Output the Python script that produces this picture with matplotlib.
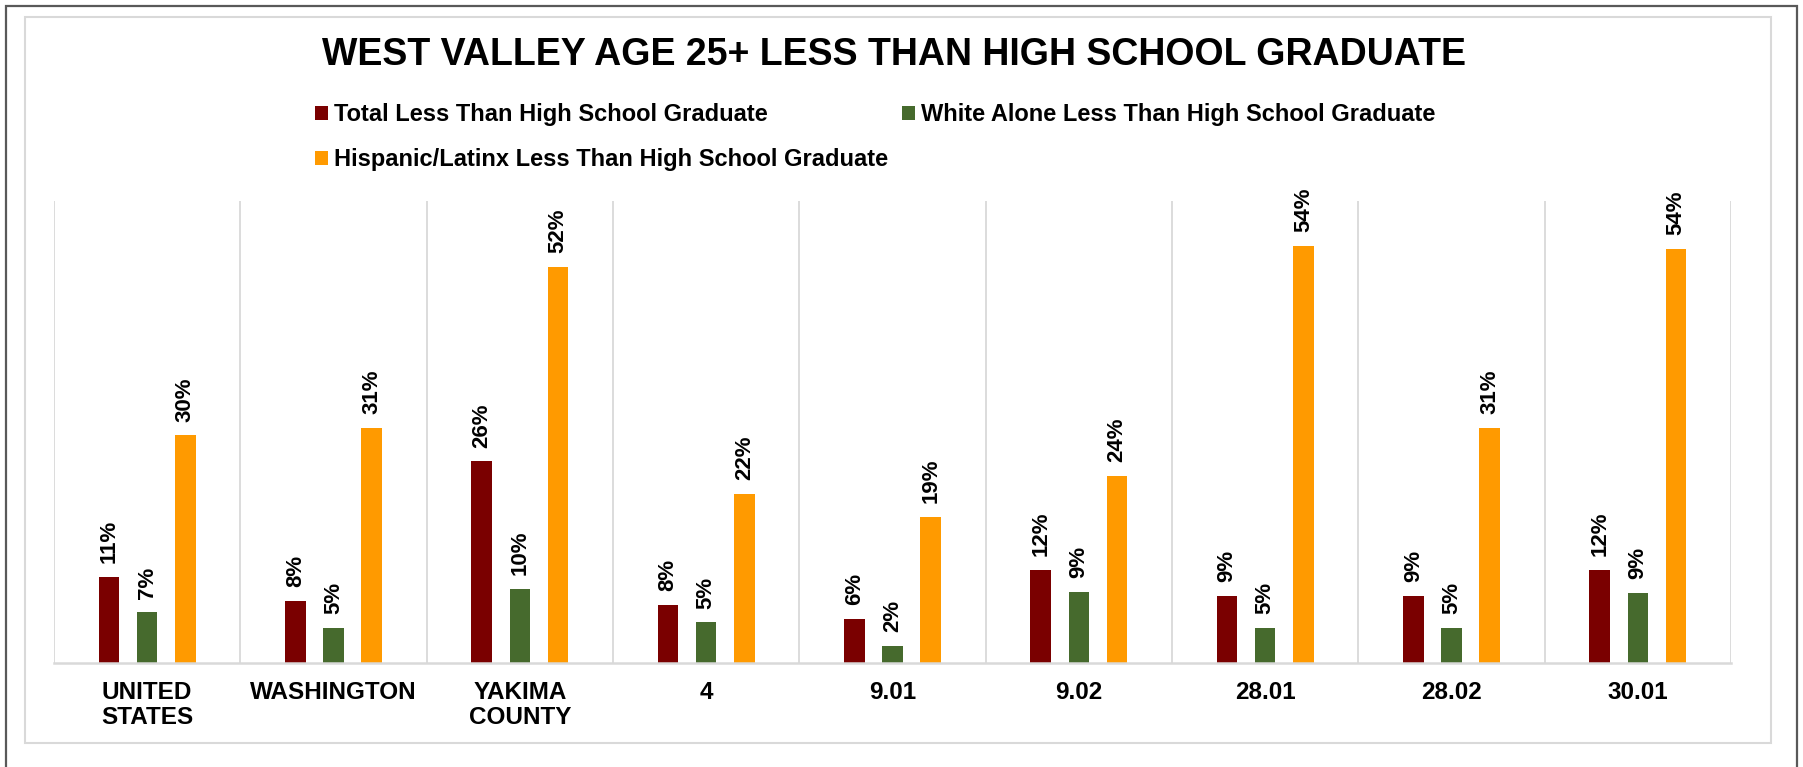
import numpy as np
import matplotlib.pyplot as plt
from matplotlib.patches import Rectangle

plt.rcParams['font.family'] = ['Liberation Sans', 'DejaVu Sans']
plt.rcParams['font.weight'] = 'bold'

categories = ["UNITED\nSTATES", "WASHINGTON", "YAKIMA\nCOUNTY", "4", "9.01",
              "9.02", "28.01", "28.02", "30.01"]
total_less_hs = [0.112, 0.081, 0.263, 0.076, 0.058, 0.121, 0.087, 0.087, 0.122]
white_less_hs = [0.066, 0.046, 0.097, 0.053, 0.022, 0.093, 0.046, 0.046, 0.092]
hispanic_less_hs = [0.297, 0.307, 0.517, 0.221, 0.191, 0.244, 0.544, 0.307, 0.541]

series_names = ["Total Less Than High School Graduate",
                "White Alone Less Than High School Graduate",
                "Hispanic/Latinx Less Than High School Graduate"]
colors = ["#7a0000", "#466a2d", "#ff9a00"]

W, H = 1803, 767
fig = plt.figure(figsize=(W / 100, H / 100), dpi=100)


def px(x0, y0, x1, y1):
    # pixel box (top-left origin) -> figure fraction [left, bottom, width, height]
    return [x0 / W, 1 - y1 / H, (x1 - x0) / W, (y1 - y0) / H]


# outer dark border and inner light frame
fig.patches.append(Rectangle((6 / W, -0.05), (1797 - 6) / W, 1 - 6 / H + 0.05,
                             transform=fig.transFigure, fill=False,
                             edgecolor="#595959", linewidth=1.6))
fig.patches.append(Rectangle((25 / W, 1 - 743 / H), (1771 - 25) / W, (743 - 17) / H,
                             transform=fig.transFigure, fill=False,
                             edgecolor="#d9d9d9", linewidth=1.5))

ax = fig.add_axes(px(54, 201, 1731, 663))

x = np.arange(len(categories))
offsets = [-0.205, 0.0, 0.205]
width = 0.11
handles = []
for vals, off, col, name in zip([total_less_hs, white_less_hs, hispanic_less_hs],
                                offsets, colors, series_names):
    bars = ax.bar(x + off, vals, width, color=col, label=name)
    ax.bar_label(bars, labels=[f"{v * 100:.0f}%" for v in vals], padding=10,
                 rotation=90, fontsize=16, fontweight='bold', color="#000000")
    handles.append(bars)

ax.set_xlim(-0.5, len(categories) - 0.5)
ax.set_ylim(0, 0.603)
ax.set_yticks([])
ax.set_xticks(x)
ax.set_xticklabels(categories, fontsize=17.5, fontweight='bold', linespacing=1.1)
ax.tick_params(axis='x', length=0, pad=13)
ax.set_xticks(np.arange(-0.5, len(categories), 1), minor=True)
ax.tick_params(axis='x', which='minor', length=0)
ax.grid(which='minor', axis='x', color="#d9d9d9", linewidth=1.3)
ax.set_axisbelow(True)
for s in ["top", "right", "left"]:
    ax.spines[s].set_visible(False)
ax.spines["bottom"].set_color("#d9d9d9")
ax.spines["bottom"].set_linewidth(1.8)

fig.text(0.496, 1 - 55 / H, "WEST VALLEY AGE 25+ LESS THAN HIGH SCHOOL GRADUATE",
         ha='center', va='center', fontsize=27, fontweight='bold')

# legend, row-major order across two columns
leg = fig.legend([handles[0], handles[2], handles[1]],
                 [series_names[0], series_names[2], series_names[1]],
                 loc='upper left', bbox_to_anchor=(315 / W, 1 - 103 / H),
                 ncol=2, frameon=False, fontsize=17, handlelength=0.55,
                 handleheight=0.55, handletextpad=0.25, columnspacing=0.6,
                 labelspacing=0.95, borderpad=0, borderaxespad=0)
for t in leg.get_texts():
    t.set_fontweight('bold')

fig.savefig("out.png", dpi=100)
